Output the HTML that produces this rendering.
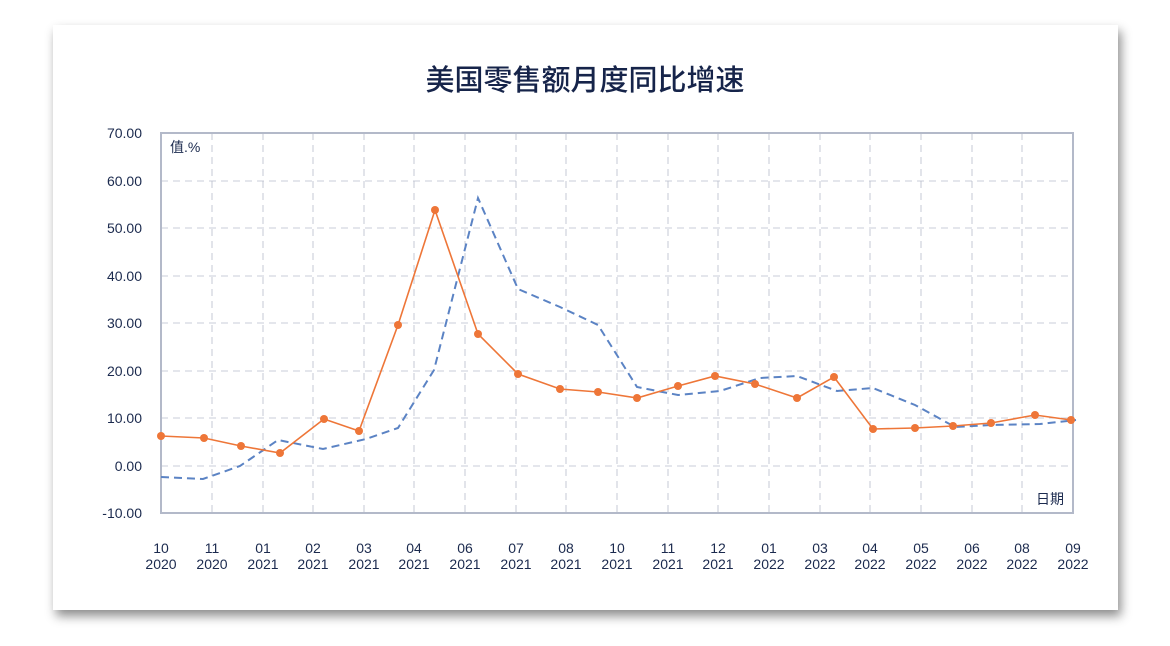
<!DOCTYPE html>
<html><head><meta charset="utf-8"><style>
body{margin:0;width:1170px;height:646px;background:#fff;overflow:hidden}
.card{position:absolute;left:53px;top:25px;width:1065px;height:585px;background:#fff;box-shadow:3px 6px 10px rgba(0,0,0,0.45)}
svg{position:absolute;left:0;top:0}
text{font-family:"Liberation Sans","Noto Sans CJK SC",sans-serif;fill:#1b2a4e}
</style></head><body>
<div class="card"></div>
<svg width="1170" height="646">
<text x="585" y="90" font-size="29" font-weight="500" text-anchor="middle" style="font-family:'Noto Sans CJK SC',sans-serif;fill:#16244a">美国零售额月度同比增速</text>
<g stroke="#b8bccb" stroke-width="0.8" stroke-dasharray="7,5">
<line x1="161" x2="1073" y1="181" y2="181"/><line x1="161" x2="1073" y1="228" y2="228"/><line x1="161" x2="1073" y1="276" y2="276"/><line x1="161" x2="1073" y1="323" y2="323"/><line x1="161" x2="1073" y1="371" y2="371"/><line x1="161" x2="1073" y1="418" y2="418"/><line x1="161" x2="1073" y1="466" y2="466"/>
<line x1="212" x2="212" y1="133" y2="513"/><line x1="263" x2="263" y1="133" y2="513"/><line x1="313" x2="313" y1="133" y2="513"/><line x1="364" x2="364" y1="133" y2="513"/><line x1="414" x2="414" y1="133" y2="513"/><line x1="465" x2="465" y1="133" y2="513"/><line x1="516" x2="516" y1="133" y2="513"/><line x1="566" x2="566" y1="133" y2="513"/><line x1="617" x2="617" y1="133" y2="513"/><line x1="668" x2="668" y1="133" y2="513"/><line x1="718" x2="718" y1="133" y2="513"/><line x1="769" x2="769" y1="133" y2="513"/><line x1="820" x2="820" y1="133" y2="513"/><line x1="870" x2="870" y1="133" y2="513"/><line x1="921" x2="921" y1="133" y2="513"/><line x1="972" x2="972" y1="133" y2="513"/><line x1="1022" x2="1022" y1="133" y2="513"/>
</g>
<rect x="161" y="133" width="912" height="380" fill="none" stroke="#b3b9c9" stroke-width="2"/>
<g font-size="14" text-anchor="end">
<text x="142" y="138">70.00</text><text x="142" y="186">60.00</text><text x="142" y="233">50.00</text><text x="142" y="281">40.00</text><text x="142" y="328">30.00</text><text x="142" y="376">20.00</text><text x="142" y="423">10.00</text><text x="142" y="471">0.00</text><text x="142" y="518">-10.00</text>
</g>
<text x="170" y="152" font-size="14">值.%</text>
<text x="1064" y="504" font-size="14" text-anchor="end">日期</text>
<g font-size="14" text-anchor="middle">
<text x="161" y="553">10</text><text x="161" y="569">2020</text>
<text x="212" y="553">11</text><text x="212" y="569">2020</text>
<text x="263" y="553">01</text><text x="263" y="569">2021</text>
<text x="313" y="553">02</text><text x="313" y="569">2021</text>
<text x="364" y="553">03</text><text x="364" y="569">2021</text>
<text x="414" y="553">04</text><text x="414" y="569">2021</text>
<text x="465" y="553">06</text><text x="465" y="569">2021</text>
<text x="516" y="553">07</text><text x="516" y="569">2021</text>
<text x="566" y="553">08</text><text x="566" y="569">2021</text>
<text x="617" y="553">10</text><text x="617" y="569">2021</text>
<text x="668" y="553">11</text><text x="668" y="569">2021</text>
<text x="718" y="553">12</text><text x="718" y="569">2021</text>
<text x="769" y="553">01</text><text x="769" y="569">2022</text>
<text x="820" y="553">03</text><text x="820" y="569">2022</text>
<text x="870" y="553">04</text><text x="870" y="569">2022</text>
<text x="921" y="553">05</text><text x="921" y="569">2022</text>
<text x="972" y="553">06</text><text x="972" y="569">2022</text>
<text x="1022" y="553">08</text><text x="1022" y="569">2022</text>
<text x="1073" y="553">09</text><text x="1073" y="569">2022</text>
</g>
<polyline fill="none" stroke="#5b83c4" stroke-width="2" stroke-dasharray="8,5" points="161,477 203,479 240,466 278,440 323,449 366,439 398,428 434,370 478,198 518,289 560,307 598,325 637,387 678,395 720,391 760,378 797,376 837,391 873,388 915,405 955,427 991,425 1040,424 1076,420"/>
<polyline fill="none" stroke="#ee7638" stroke-width="1.6" points="161,436 204,438 241,446 280,453 324,419 359,431 398,325 435,210 478,334 518,374 560,389 598,392 637,398 678,386 715,376 755,384 797,398 834,377 873,429 915,428 953,426 991,423 1035,415 1071,420"/>
<g fill="#ee7638">
<circle cx="161" cy="436" r="4"/><circle cx="204" cy="438" r="4"/><circle cx="241" cy="446" r="4"/><circle cx="280" cy="453" r="4"/><circle cx="324" cy="419" r="4"/><circle cx="359" cy="431" r="4"/><circle cx="398" cy="325" r="4"/><circle cx="435" cy="210" r="4"/><circle cx="478" cy="334" r="4"/><circle cx="518" cy="374" r="4"/><circle cx="560" cy="389" r="4"/><circle cx="598" cy="392" r="4"/><circle cx="637" cy="398" r="4"/><circle cx="678" cy="386" r="4"/><circle cx="715" cy="376" r="4"/><circle cx="755" cy="384" r="4"/><circle cx="797" cy="398" r="4"/><circle cx="834" cy="377" r="4"/><circle cx="873" cy="429" r="4"/><circle cx="915" cy="428" r="4"/><circle cx="953" cy="426" r="4"/><circle cx="991" cy="423" r="4"/><circle cx="1035" cy="415" r="4"/><circle cx="1071" cy="420" r="4"/>
</g>
</svg>
</body></html>
